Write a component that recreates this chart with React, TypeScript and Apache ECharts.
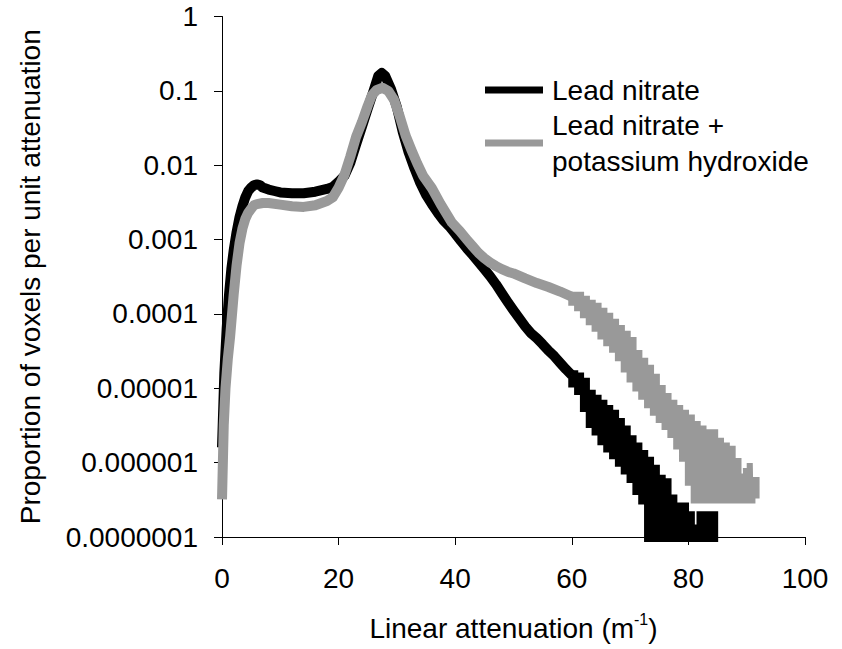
import React, { useEffect, useRef } from "react";
import * as echarts from "echarts";

// Lead nitrate: [linear attenuation (1/m), proportion of voxels per unit attenuation]
const leadNitrateBody: [number, number][] = [
  [0, 1.6e-6], [0.4, 1.6e-5], [0.8, 6.3e-5], [1.2, 1.8e-4], [1.6, 4.0e-4],
  [2, 7.1e-4], [2.5, 1.26e-3], [3, 2.0e-3], [3.5, 2.8e-3], [4, 3.7e-3],
  [4.5, 4.5e-3], [5, 5.0e-3], [5.5, 5.4e-3], [6, 5.5e-3], [6.5, 5.4e-3],
  [7, 5.0e-3], [8, 4.7e-3], [9, 4.5e-3], [10, 4.3e-3], [12, 4.2e-3],
  [14, 4.2e-3], [16, 4.4e-3], [18, 4.8e-3], [19, 5.1e-3], [20, 6.0e-3],
  [21, 7.2e-3], [22, 0.0107], [23, 0.019], [24, 0.033], [25, 0.058],
  [26, 0.1], [26.8, 0.158], [27.4, 0.174], [28, 0.158], [29, 0.105],
  [30, 0.06], [31, 0.028], [32, 0.015], [33, 0.0091], [34, 0.0058],
  [35, 0.004], [36, 0.003], [37, 0.0023], [38, 0.0018], [39, 0.0015],
  [40, 0.0012], [41, 9.5e-4], [42, 7.6e-4], [43, 6.2e-4], [44, 5.0e-4],
  [45, 4.0e-4], [46, 3.2e-4], [47, 2.5e-4], [48, 1.9e-4], [49, 1.45e-4],
  [50, 1.12e-4], [51, 8.7e-5], [52, 6.8e-5], [53, 5.5e-5], [54, 4.7e-5],
  [55, 3.9e-5], [56, 3.2e-5], [57, 2.7e-5], [58, 2.2e-5], [59, 1.8e-5],
  [60, 1.5e-5],
];

// Sparse, noisy high-attenuation bins (empty bins sit below the axis floor)
const leadNitrateTail: [number, number][] = [
  [60, 1.5e-5], [60.5, 1.2e-5],
  [61, 1.4e-5], [61.5, 9.5e-6], [62, 1.19e-5], [62.5, 5.6e-6], [63, 8.2e-6],
  [63.5, 3.4e-6], [64, 7.0e-6], [64.5, 2.7e-6], [65, 6.0e-6], [65.5, 2.0e-6],
  [66, 5.1e-6], [66.5, 1.6e-6], [67, 4.4e-6], [67.5, 1.3e-6], [68, 3.4e-6],
  [68.5, 1.03e-6], [69, 2.7e-6], [69.5, 8.1e-7], [70, 2.0e-6], [70.5, 6.2e-7],
  [71, 1.6e-6], [71.5, 4.3e-7], [72, 1.27e-6], [72.5, 3.2e-7], [73, 1.03e-6],
  [73.5, 5e-8], [74, 8.0e-7], [74.5, 5e-8], [75, 5.9e-7], [75.5, 5e-8],
  [76, 5.3e-7], [76.5, 5e-8], [77, 3.2e-7], [77.5, 5e-8], [78, 2.5e-7],
  [78.5, 5e-8], [79, 2.5e-7], [79.5, 5e-8], [80, 1.9e-7], [80.5, 5e-8],
  [81, 1.26e-7], [81.5, 5e-8], [82, 5e-8], [82.5, 1.9e-7], [83, 5e-8],
  [83.5, 5e-8], [84, 1.9e-7], [84.5, 5e-8],
];

// Lead nitrate + potassium hydroxide
const hydroxideBody: [number, number][] = [
  [0, 3.2e-7], [0.3, 3.2e-6], [0.6, 1.0e-5], [1, 2.5e-5], [1.4, 5.0e-5],
  [2, 1.8e-4], [2.5, 4.5e-4], [3, 8.9e-4], [3.5, 1.4e-3], [4, 1.9e-3],
  [4.5, 2.3e-3], [5, 2.6e-3], [5.5, 2.9e-3], [6, 3.0e-3], [7, 3.1e-3],
  [8, 3.1e-3], [10, 2.95e-3], [12, 2.8e-3], [14, 2.75e-3], [16, 2.9e-3],
  [18, 3.3e-3], [19, 3.7e-3], [20, 5.0e-3], [21, 7.4e-3], [22, 0.013],
  [23, 0.024], [24, 0.038], [25, 0.063], [25.7, 0.087], [26.5, 0.102],
  [27.5, 0.11], [28.5, 0.1], [29.5, 0.076], [30.5, 0.045], [31.5, 0.025],
  [32.5, 0.016], [33.5, 0.0105], [34.5, 0.0072], [36, 0.0049], [37.5, 0.003],
  [39.4, 0.0017], [40.8, 0.0013], [42, 0.001], [43, 8.1e-4], [44, 6.6e-4],
  [45, 5.6e-4], [46, 4.9e-4], [47, 4.4e-4], [48, 4.0e-4], [49, 3.7e-4],
  [50, 3.5e-4], [52, 3.0e-4], [54, 2.6e-4], [56, 2.3e-4], [58, 2.0e-4],
  [60, 1.7e-4],
];

const hydroxideTail: [number, number | null][] = [
  [60, 1.7e-4], [60.5, 1.5e-4],
  [61, 1.7e-4], [61.5, 1.27e-4], [62, 1.5e-4], [62.5, 1.02e-4], [63, 1.33e-4],
  [63.5, 8.2e-5], [64, 1.21e-4], [64.5, 6.7e-5], [65, 1.04e-4], [65.5, 5.3e-5],
  [66, 8.9e-5], [66.5, 4.3e-5], [67, 7.4e-5], [67.5, 3.5e-5], [68, 6.1e-5],
  [68.5, 2.7e-5], [69, 5.1e-5], [69.5, 1.9e-5], [70, 4.2e-5], [70.5, 1.4e-5],
  [71, 2.8e-5], [71.5, 1.06e-5], [72, 2.2e-5], [72.5, 8.2e-6], [73, 1.77e-5],
  [73.5, 6.3e-6], [74, 1.34e-5], [74.5, 5.0e-6], [75, 9.5e-6], [75.5, 4.0e-6],
  [76, 7.4e-6], [76.5, 3.2e-6], [77, 6.0e-6], [77.5, 2.5e-6], [78, 5.1e-6],
  [78.5, 1.76e-6], [79, 4.4e-6], [79.5, 1.2e-6], [80, 3.8e-6], [80.5, 5.7e-7],
  [81, 3.1e-6], [81.5, 3.3e-7], [82, 2.7e-6], [82.5, 3.3e-7], [83, 2.3e-6],
  [83.5, 3.3e-7], [84, 2.4e-6], [84.5, 3.3e-7], [85, 1.85e-6], [85.5, 3.3e-7],
  [86, 1.6e-6], [86.5, 3.3e-7], [87, 1.44e-6], [87.5, 3.3e-7], [88, 9.9e-7],
  [88.5, 3.3e-7], [89, 6.1e-7], [89.5, 3.3e-7], [89.8, null], [90.2, 8.5e-7],
  [90.4, 3.3e-7], [90.8, null], [91.2, 5.5e-7], [91.5, 3.3e-7],
];

const seriesNames = ["Lead nitrate", "Lead nitrate + potassium hydroxide"];
const legendLabels = ["Lead nitrate", "Lead nitrate +\npotassium hydroxide"];
const seriesColors = ["#000000", "#999999"];

const yTickLabels = [
  "1", "0.1", "0.01", "0.001", "0.0001", "0.00001", "0.000001", "0.0000001",
];

const FONT = "'Liberation Sans', Arial, Helvetica, sans-serif";

export default function App() {
  const ref = useRef<HTMLDivElement>(null);

  useEffect(() => {
    if (!ref.current) return;
    const chart = echarts.init(ref.current, null, { renderer: "svg" });

    const lineSeries = (name: string, color: string, data: any[], stepped: boolean) => ({
      name,
      type: "line",
      data,
      step: stepped ? "middle" : false,
      symbol: "none",
      showSymbol: false,
      connectNulls: false,
      clip: true,
      lineStyle: { color, width: 10, join: stepped ? "miter" : "round", cap: "butt" },
      itemStyle: { color },
    });

    chart.setOption({
      animation: false,
      backgroundColor: "#ffffff",
      textStyle: { fontFamily: FONT, color: "#000" },
      grid: { left: 222, right: 37, top: 16.5, bottom: 112, containLabel: false },
      legend: {
        orient: "vertical",
        left: 480,
        top: 67,
        itemWidth: 58,
        itemHeight: 7,
        itemGap: -1,
        icon: "rect",
        data: seriesNames,
        formatter: (name: string) => legendLabels[seriesNames.indexOf(name)],
        textStyle: {
          fontFamily: FONT,
          fontSize: 28,
          lineHeight: 36,
          color: "#000",
          padding: [0, 0, 0, 4],
        },
      },
      xAxis: {
        type: "value",
        min: 0,
        max: 100,
        interval: 20,
        name: "{a|Linear attenuation (m}{b|-1}{a|)}",
        nameLocation: "middle",
        nameGap: 74,
        nameTextStyle: {
          rich: {
            a: { fontFamily: FONT, fontSize: 28, color: "#000", lineHeight: 34 },
            b: { fontFamily: FONT, fontSize: 16, color: "#000", verticalAlign: "top", lineHeight: 34 },
          },
        },
        axisLine: { onZero: false, lineStyle: { color: "#000", width: 1 } },
        axisTick: { inside: false, length: 8, lineStyle: { color: "#000" } },
        axisLabel: { fontFamily: FONT, fontSize: 28, color: "#000", margin: 27 },
        splitLine: { show: false },
      },
      yAxis: {
        type: "log",
        logBase: 10,
        min: 1e-7,
        max: 1,
        interval: 1,
        name: "Proportion of voxels per unit attenuation",
        nameLocation: "middle",
        nameGap: 178,
        nameTextStyle: { fontFamily: FONT, fontSize: 28, color: "#000" },
        axisLine: { lineStyle: { color: "#000", width: 1 } },
        axisTick: { inside: false, length: 8, lineStyle: { color: "#000" } },
        axisLabel: {
          fontFamily: FONT,
          fontSize: 28,
          color: "#000",
          margin: 24,
          formatter: (v: number) => yTickLabels[Math.round(-Math.log10(v))] ?? "",
        },
        splitLine: { show: false },
        minorTick: { show: false },
      },
      series: [
        lineSeries(seriesNames[0], seriesColors[0], leadNitrateBody, false),
        lineSeries(seriesNames[0], seriesColors[0], leadNitrateTail, true),
        lineSeries(seriesNames[1], seriesColors[1], hydroxideBody, false),
        lineSeries(seriesNames[1], seriesColors[1], hydroxideTail, true),
      ],
    });

    return () => chart.dispose();
  }, []);

  return (
    <div
      ref={ref}
      style={{ position: "absolute", left: 0, top: 0, width: 842, height: 649, background: "#fff" }}
    />
  );
}
